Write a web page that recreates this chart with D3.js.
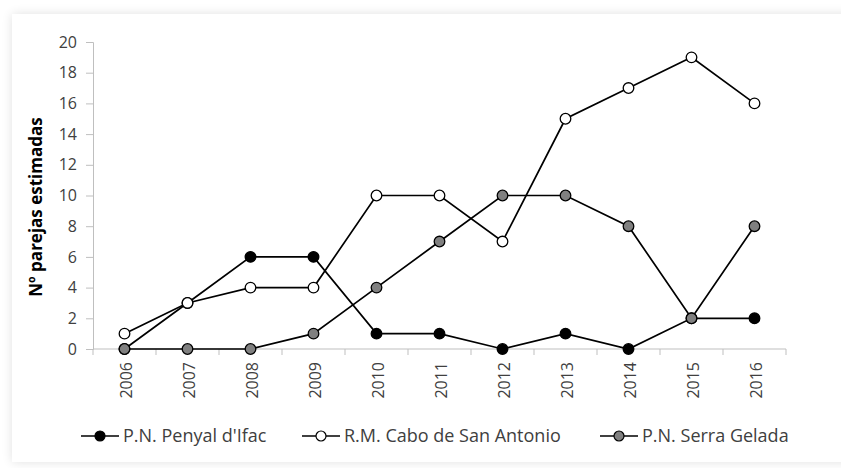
<!DOCTYPE html>
<html>
<head>
<meta charset="utf-8">
<script src="https://cdn.jsdelivr.net/npm/d3@7"></script>
<style>
  body { margin: 0; background: #fff; }
  #chart { position: absolute; left: 12px; top: 14px; width: 841px; height: 448px;
           background: #fff; box-shadow: 0 0 10px rgba(0,0,0,0.12); }
  svg { position: absolute; left: 0; top: 0; }
</style>
</head>
<body>
<div id="chart"></div>
<svg id="svg" width="841" height="468"></svg>
<script>
const years = ["2006","2007","2008","2009","2010","2011","2012","2013","2014","2015","2016"];
const penyal = [0, 3, 6, 6, 1, 1, 0, 1, 0, 2, 2];
const cabo = [1, 3, 4, 4, 10, 10, 7, 15, 17, 19, 16];
const serra = [0, 0, 0, 1, 4, 7, 10, 10, 8, 2, 8];
const yTicks = [0, 2, 4, 6, 8, 10, 12, 14, 16, 18, 20];

const series = [
  { name: "P.N. Penyal d'Ifac", values: penyal, fill: "#000" },
  { name: "R.M. Cabo de San Antonio", values: cabo, fill: "#fff" },
  { name: "P.N. Serra Gelada", values: serra, fill: "#808080" }
];

const font = "'Open Sans', 'Noto Sans', sans-serif";
const svg = d3.select("#svg");

const x = d3.scaleBand().domain(years).range([93, 786]);
const y = d3.scaleLinear().domain([0, 20]).range([349, 42]);

// y axis
const yAxis = svg.append("g")
  .attr("transform", "translate(93,0)")
  .call(d3.axisLeft(y).tickValues(yTicks).tickSize(7).tickPadding(9));
yAxis.select(".domain").attr("stroke", "#bfbfbf");
yAxis.selectAll(".tick line").attr("stroke", "#bfbfbf");
yAxis.selectAll("text").attr("font-family", font).attr("font-size", 16).attr("fill", "#404040");

// x axis, ticks sit on the category boundaries
const xg = svg.append("g").attr("transform", "translate(0,349)");
xg.append("line").attr("x1", 93).attr("x2", 786).attr("stroke", "#bfbfbf");
xg.selectAll("line.tk")
  .data(years.concat(["end"]))
  .join("line")
  .attr("class", "tk")
  .attr("x1", (d, i) => 93 + i * x.step())
  .attr("x2", (d, i) => 93 + i * x.step())
  .attr("y1", 0).attr("y2", 6)
  .attr("stroke", "#bfbfbf");
xg.selectAll("text")
  .data(years)
  .join("text")
  .attr("transform", d => `translate(${x(d) + x.bandwidth() / 2 + 7},${13}) rotate(-90)`)
  .attr("text-anchor", "end")
  .attr("font-family", font).attr("font-size", 16).attr("fill", "#404040")
  .text(d => d);

// y title
svg.append("text")
  .attr("transform", "translate(42,207) rotate(-90)")
  .attr("text-anchor", "middle")
  .attr("font-family", font).attr("font-size", 17).attr("font-weight", "bold")
  .attr("fill", "#000")
  .text("Nº parejas estimadas");

const line = d3.line()
  .x((d, i) => x(years[i]) + x.bandwidth() / 2)
  .y(d => y(d));

series.forEach(s => {
  const g = svg.append("g");
  g.append("path")
    .attr("d", line(s.values))
    .attr("fill", "none")
    .attr("stroke", "#000")
    .attr("stroke-width", 1.7);
  g.selectAll("circle")
    .data(s.values)
    .join("circle")
    .attr("cx", (d, i) => x(years[i]) + x.bandwidth() / 2)
    .attr("cy", d => y(d))
    .attr("r", 5.3)
    .attr("fill", s.fill)
    .attr("stroke", "#000")
    .attr("stroke-width", 1.3);
});

// legend
const legendX = [81, 302, 600];
const legend = svg.append("g").attr("transform", "translate(0,436)");
series.forEach((s, i) => {
  const lg = legend.append("g").attr("transform", `translate(${legendX[i]},0)`);
  lg.append("line").attr("x1", 0).attr("x2", 38).attr("stroke", "#000").attr("stroke-width", 1.6);
  lg.append("circle").attr("cx", 19).attr("r", 5).attr("fill", s.fill)
    .attr("stroke", "#000").attr("stroke-width", 1.2);
  lg.append("text").attr("x", 42).attr("y", 6)
    .attr("font-family", font).attr("font-size", 18).attr("fill", "#404040")
    .text(s.name);
});
</script>
</body>
</html>
